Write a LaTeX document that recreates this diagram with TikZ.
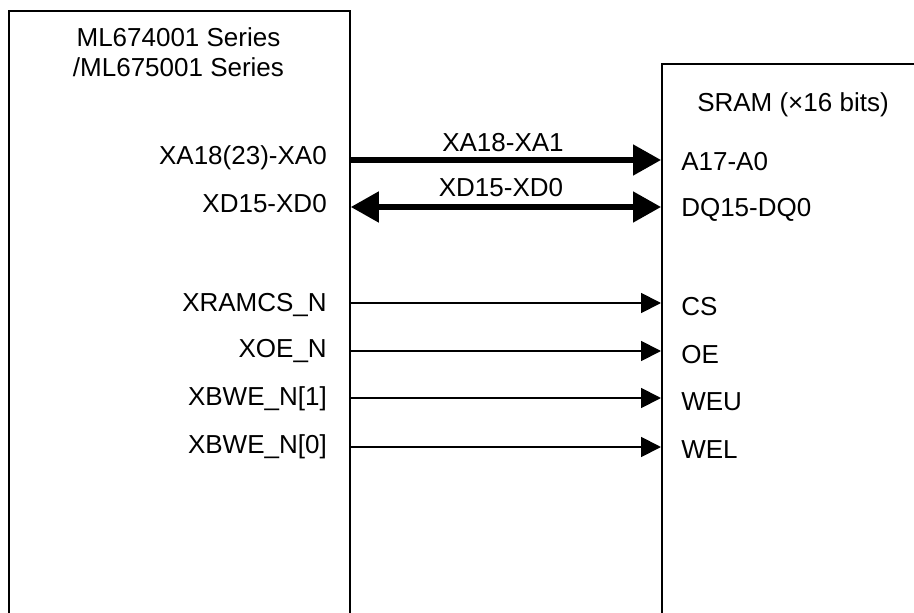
\documentclass[tikz,border=0pt]{standalone}
\usepackage{fontspec}
\setmainfont{Liberation Sans}
\usetikzlibrary{arrows.meta}
\begin{document}
\begin{tikzpicture}[x=0.75pt,y=-0.75pt,
  lbl/.style={inner sep=0pt, font=\fontsize{19.5}{23}\selectfont},
  boxshape/.style={draw, line width=1.4pt, anchor=north west, inner sep=0pt},
  bus/.style={line width=3.8pt, -{Triangle[length=21pt,width=22.5pt]}},
  bibus/.style={line width=3.8pt, {Triangle[length=21pt,width=22.5pt]}-{Triangle[length=21pt,width=22.5pt]}},
  sig/.style={line width=1.4pt, -{Triangle[length=15pt,width=15pt]}}]
\useasboundingbox (0,0) rectangle (914,613);
\clip (0,0) rectangle (914,613);
\fill[white] (0,0) rectangle (914,613);
% boxes
\node[boxshape, minimum width=255.75pt, minimum height=540pt] (L) at (8,10) {};
\node[boxshape, minimum width=300pt, minimum height=500pt] (R) at (661,63) {};
% titles
\node[lbl, anchor=base] (t1) at (178.5,47) {ML674001 Series};
\node[lbl, anchor=base] (t2) at (178.5,77) {/ML675001 Series};
\node[lbl, anchor=base west] (t3) at (697,112) {SRAM (\char"00D7 16 bits)};
% left pins
\node[lbl, anchor=base east] (pa) at (327,165) {XA18(23)-XA0};
\node[lbl, anchor=base east] (pd) at (327,213) {XD15-XD0};
\node[lbl, anchor=base east] (pcs) at (327,311) {XRAMCS\_N};
\node[lbl, anchor=base east] (poe) at (327,357) {XOE\_N};
\node[lbl, anchor=base east] (pw1) at (327,405) {XBWE\_N[1]};
\node[lbl, anchor=base east] (pw0) at (327,453) {XBWE\_N[0]};
% right pins
\node[lbl, anchor=base west] (qa) at (681,171) {A17-A0};
\node[lbl, anchor=base west] (qd) at (681,217) {DQ15-DQ0};
\node[lbl, anchor=base west] (qcs) at (681,315) {CS};
\node[lbl, anchor=base west] (qoe) at (681,363) {OE};
\node[lbl, anchor=base west] (qwu) at (681,410) {WEU};
\node[lbl, anchor=base west] (qwl) at (681,458) {WEL};
% connectors
\draw[bus] (L.east |- 0,160) -- (R.west |- 0,160);
\draw[bibus] (L.east |- 0,207) -- (R.west |- 0,207);
\draw[sig] (L.east |- 0,303) -- (R.west |- 0,303);
\draw[sig] (L.east |- 0,351) -- (R.west |- 0,351);
\draw[sig] (L.east |- 0,398) -- (R.west |- 0,398);
\draw[sig] (L.east |- 0,447) -- (R.west |- 0,447);
% bus labels
\node[lbl, anchor=base] (ba) at (503,152) {XA18-XA1};
\node[lbl, anchor=base] (bd) at (501,197) {XD15-XD0};
\end{tikzpicture}
\end{document}
